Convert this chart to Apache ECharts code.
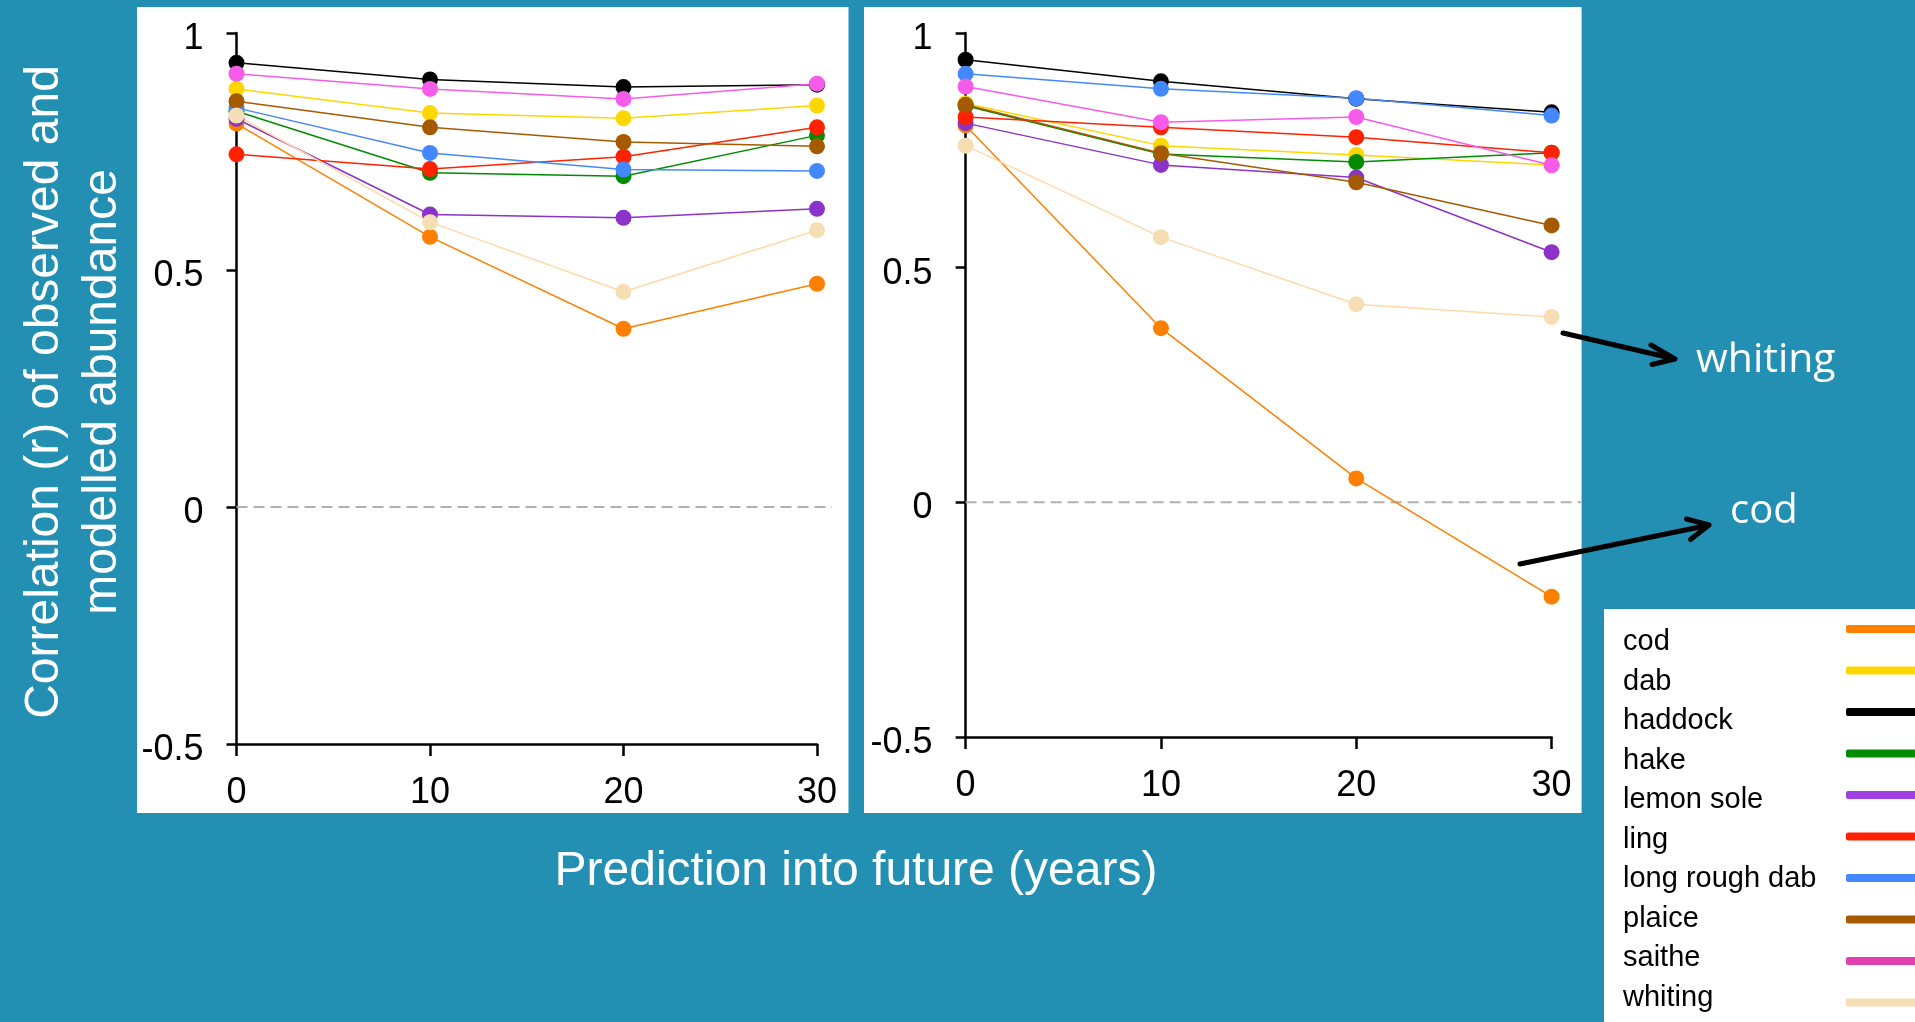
<!DOCTYPE html>
<html><head><meta charset="utf-8">
<script src="https://cdn.jsdelivr.net/npm/echarts@6/dist/echarts.min.js"></script>
<style>html,body{margin:0;padding:0;background:#2390B3;}#c{width:1915px;height:1022px;}</style>
</head><body><div id="c"></div><script>
// ---------- data ----------
const years = [0, 10, 20, 30];
const species = ['cod','dab','haddock','hake','lemon sole','ling','long rough dab','plaice','saithe','whiting'];

// left panel
const leftCod        = [0.809, 0.570, 0.376, 0.471];
const leftDab        = [0.882, 0.831, 0.820, 0.847];
const leftHaddock    = [0.937, 0.902, 0.886, 0.891];
const leftHake       = [0.835, 0.705, 0.698, 0.784];
const leftLemonSole  = [0.819, 0.617, 0.610, 0.629];
const leftLing       = [0.744, 0.713, 0.739, 0.801];
const leftLongRough  = [0.842, 0.747, 0.712, 0.709];
const leftPlaice     = [0.856, 0.801, 0.770, 0.761];
const leftSaithe     = [0.914, 0.882, 0.861, 0.893];
const leftWhiting    = [0.826, 0.601, 0.454, 0.584];

// right panel
const rightCod       = [0.803, 0.371, 0.051, -0.201];
const rightDab       = [0.850, 0.760, 0.740, 0.719];
const rightHaddock   = [0.943, 0.897, 0.860, 0.831];
const rightHake      = [0.845, 0.742, 0.725, 0.745];
const rightLemonSole = [0.808, 0.719, 0.692, 0.533];
const rightLing      = [0.821, 0.799, 0.778, 0.745];
const rightLongRough = [0.913, 0.881, 0.861, 0.824];
const rightPlaice    = [0.847, 0.744, 0.682, 0.590];
const rightSaithe    = [0.886, 0.810, 0.821, 0.718];
const rightWhiting   = [0.760, 0.565, 0.422, 0.395];

// zero reference line
const zeroLine = [[0, 0], [1, 0]];

const leftData  = [leftCod, leftDab, leftHaddock, leftHake, leftLemonSole, leftLing, leftLongRough, leftPlaice, leftSaithe, leftWhiting];
const rightData = [rightCod, rightDab, rightHaddock, rightHake, rightLemonSole, rightLing, rightLongRough, rightPlaice, rightSaithe, rightWhiting];

// ---------- styles ----------
const pointColors  = ['#FF7F00','#FFD700','#000000','#008B00','#8B33C8','#FF2200','#4488FF','#A65A00','#F75BE9','#F5DEB3'];
const lineColors   = ['#FF7F00','#FFD700','#000000','#008B00','#8B33C8','#FF2200','#4488FF','#A65A00','#F75BE9','#FFD9A8'];
const legendColors = ['#FF7F00','#FFD700','#000000','#008B00','#A040E0','#FF2200','#4488FF','#A65A00','#E040B0','#F5DEB3'];
const FF = '"Liberation Sans", Arial, Helvetica, sans-serif';

const chart = echarts.init(document.getElementById('c'), null, {renderer: 'canvas'});

function xAxisOpt(grid) {
  return {
    type: 'value', gridIndex: grid, min: 0, max: 30, interval: 10,
    axisLine: {show: true, onZero: false, lineStyle: {color: '#000', width: 2.5}},
    axisTick: {show: true, length: 12, lineStyle: {color: '#000', width: 2.5}},
    axisLabel: {fontSize: 36, color: '#000', margin: 31, fontFamily: FF},
    splitLine: {show: false}
  };
}
function yAxisOpt(grid) {
  return {
    type: 'value', gridIndex: grid, min: -0.5, max: 1, interval: 0.5,
    axisLine: {show: true, onZero: false, lineStyle: {color: '#000', width: 2.5}},
    axisTick: {show: true, length: 10, lineStyle: {color: '#000', width: 2.5}},
    axisLabel: {fontSize: 36, color: '#000', margin: 33, fontFamily: FF, verticalAlign: 'top', lineHeight: 12},
    splitLine: {show: false}
  };
}
function hiddenAxis(grid, min, max) {
  return {type: 'value', gridIndex: grid, min: min, max: max, show: false, splitLine: {show: false}};
}

const series = [];
// zero lines
series.push({type: 'line', xAxisIndex: 2, yAxisIndex: 2, data: zeroLine, symbol: 'none', silent: true, z: 1,
  lineStyle: {color: '#B0B0B0', width: 2, type: [11, 6]}});
series.push({type: 'line', xAxisIndex: 3, yAxisIndex: 3, data: zeroLine, symbol: 'none', silent: true, z: 1,
  lineStyle: {color: '#B0B0B0', width: 2, type: [11, 6]}});

[leftData, rightData].forEach(function (panel, p) {
  species.forEach(function (name, i) {
    series.push({
      type: 'line', name: name, xAxisIndex: p, yAxisIndex: p,
      data: years.map(function (yr, k) { return [yr, panel[i][k]]; }),
      symbol: 'circle', symbolSize: 16,
      itemStyle: {color: pointColors[i]},
      lineStyle: {color: lineColors[i], width: 1.5},
      emphasis: {disabled: true}
    });
  });
});

const option = {
  backgroundColor: '#2390B3',
  animation: false,
  grid: [
    {left: 236.5, top: 33, width: 580.5, height: 711},
    {left: 965.6, top: 33, width: 586, height: 704},
    {left: 236.5, top: 33, width: 595.5, height: 711},
    {left: 965.6, top: 33, width: 615.4, height: 704}
  ],
  xAxis: [xAxisOpt(0), xAxisOpt(1), hiddenAxis(2, 0, 1), hiddenAxis(3, 0, 1)],
  yAxis: [yAxisOpt(0), yAxisOpt(1), hiddenAxis(2, -0.5, 1), hiddenAxis(3, -0.5, 1)],
  legend: [
    { // line samples
      orient: 'vertical', left: 1846, top: 615, align: 'left', padding: 0,
      itemGap: 13.5, itemWidth: 80, itemHeight: 8, icon: 'roundRect', selectedMode: false,
      formatter: function () { return ' '; },
      textStyle: {fontSize: 28, lineHeight: 28, color: '#000'},
      data: species.map(function (n, i) {
        return {name: n, icon: n === 'whiting' ? 'rect' : 'roundRect', itemStyle: {color: legendColors[i]}};
      })
    },
    { // names
      orient: 'vertical', left: 1617, top: 627.5, align: 'left', padding: 0,
      itemGap: 10.5, itemWidth: 1, itemHeight: 1, icon: 'rect', selectedMode: false,
      textStyle: {fontSize: 29, lineHeight: 28, fontFamily: FF, color: '#000'},
      data: species.map(function (n) {
        return {name: n, itemStyle: {color: 'rgba(0,0,0,0)'}};
      })
    }
  ],
  graphic: [
    {type: 'rect', z: -10, shape: {x: 137, y: 7, width: 711.5, height: 806}, style: {fill: '#fff'}},
    {type: 'rect', z: -10, shape: {x: 864, y: 7, width: 717.6, height: 806}, style: {fill: '#fff'}},
    {type: 'rect', z: -10, shape: {x: 1604, y: 609, width: 311, height: 413}, style: {fill: '#fff'}},
    {type: 'text', x: 74, y: 392, rotation: Math.PI / 2,
      style: {text: 'Correlation (r) of observed and\nmodelled abundance', fill: '#fff', font: '48px ' + FF,
        align: 'center', verticalAlign: 'middle', lineHeight: 58}},
    {type: 'text', x: 856, y: 872,
      style: {text: 'Prediction into future (years)', fill: '#fff', font: '48px ' + FF,
        align: 'center', verticalAlign: 'middle'}},
    {type: 'line', shape: {x1: 1563, y1: 333, x2: 1673, y2: 358.5},
      style: {stroke: '#000', lineWidth: 5, lineCap: 'round'}},
    {type: 'polyline', shape: {points: [[1651, 345], [1675, 359], [1652, 364.5]]},
      style: {stroke: '#000', lineWidth: 5, lineCap: 'round', lineJoin: 'round', fill: null}},
    {type: 'line', shape: {x1: 1520, y1: 564, x2: 1707, y2: 525.5},
      style: {stroke: '#000', lineWidth: 5, lineCap: 'round'}},
    {type: 'polyline', shape: {points: [[1686.5, 519], [1709, 525], [1690.5, 539.5]]},
      style: {stroke: '#000', lineWidth: 5, lineCap: 'round', lineJoin: 'round', fill: null}},
    {type: 'text', x: 1696, y: 360,
      style: {text: 'whiting', fill: '#fff', font: '41px "Open Sans", sans-serif', align: 'left', verticalAlign: 'middle'}},
    {type: 'text', x: 1730, y: 512,
      style: {text: 'cod', fill: '#fff', font: '40px "Open Sans", sans-serif', align: 'left', verticalAlign: 'middle'}}
  ],
  series: series
};
chart.setOption(option);
</script></body></html>
